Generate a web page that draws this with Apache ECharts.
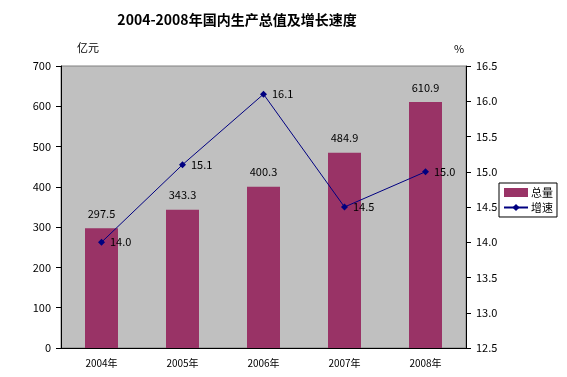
<!DOCTYPE html>
<html>
<head>
<meta charset="utf-8">
<script src="https://cdn.jsdelivr.net/npm/echarts@6/dist/echarts.min.js"></script>
<style>
  html, body { margin: 0; padding: 0; background: #fff; }
  #chart { width: 567px; height: 377px; }
</style>
</head>
<body>
<div id="chart"></div>
<script>
// data
const years = ['2004年', '2005年', '2006年', '2007年', '2008年']
const total = [297.5, 343.3, 400.3, 484.9, 610.9]
const growth = [14.0, 15.1, 16.1, 14.5, 15.0]

const font = '"Noto Sans CJK SC", sans-serif'
const chart = echarts.init(document.getElementById('chart'))

chart.setOption({
  backgroundColor: '#fff',
  animation: false,
  textStyle: { fontFamily: font },
  title: {
    text: '2004-2008年国内生产总值及增长速度',
    left: 232,
    textAlign: 'center',
    top: 8,
    textStyle: { fontSize: 14, fontWeight: 'bold', color: '#000', fontFamily: font }
  },
  legend: {
    orient: 'vertical',
    left: 499,
    top: 183,
    itemGap: 4,
    itemWidth: 24,
    itemHeight: 9,
    padding: [4, 4, 4, 4],
    borderColor: '#000',
    borderWidth: 1,
    textStyle: { fontSize: 11, color: '#000', padding: [0, 0, 0, -2] },
    data: [
      { name: '总量', icon: 'rect' },
      { name: '增速' }
    ]
  },
  grid: {
    left: 61,
    right: 101,
    top: 66,
    bottom: 29,
    show: true,
    backgroundColor: '#c0c0c0',
    borderColor: '#808080',
    borderWidth: 1
  },
  xAxis: {
    type: 'category',
    data: years,
    axisLine: { lineStyle: { color: '#000', width: 1 } },
    axisTick: { inside: true, length: 4, lineStyle: { color: '#000' } },
    axisLabel: { color: '#000', fontSize: 10, margin: 10 }
  },
  yAxis: [
    {
      type: 'value',
      name: '亿元',
      nameLocation: 'end',
      nameGap: 13,
      nameTextStyle: { color: '#000', fontSize: 11, padding: [0, 0, 0, 54] },
      min: 0,
      max: 700,
      interval: 100,
      axisLine: { show: true, lineStyle: { color: '#000' } },
      axisTick: { show: true, length: 5, lineStyle: { color: '#000' } },
      axisLabel: { color: '#000', fontSize: 11, margin: 10 },
      splitLine: { show: false }
    },
    {
      type: 'value',
      name: '%',
      nameLocation: 'end',
      nameGap: 12,
      nameTextStyle: { color: '#000', fontSize: 11, padding: [0, 0, 0, -14] },
      min: 12.5,
      max: 16.5,
      interval: 0.5,
      axisLine: { show: true, lineStyle: { color: '#000' } },
      axisTick: { show: true, length: 5, lineStyle: { color: '#000' } },
      axisLabel: {
        color: '#000',
        fontSize: 11,
        margin: 10,
        formatter: v => v.toFixed(1)
      },
      splitLine: { show: false }
    }
  ],
  series: [
    {
      name: '总量',
      type: 'bar',
      barWidth: 33,
      data: total,
      itemStyle: { color: '#993366' },
      label: {
        show: true,
        position: 'top',
        distance: 9,
        color: '#000',
        fontSize: 11,
        formatter: p => p.value.toFixed(1)
      }
    },
    {
      name: '增速',
      type: 'line',
      yAxisIndex: 1,
      data: growth,
      symbol: 'diamond',
      symbolSize: 7,
      lineStyle: { color: '#000080', width: 1 },
      itemStyle: { color: '#000080' },
      label: {
        show: true,
        position: 'right',
        distance: 5,
        color: '#000',
        fontSize: 11,
        formatter: p => p.value.toFixed(1)
      }
    }
  ]
})
</script>
</body>
</html>
